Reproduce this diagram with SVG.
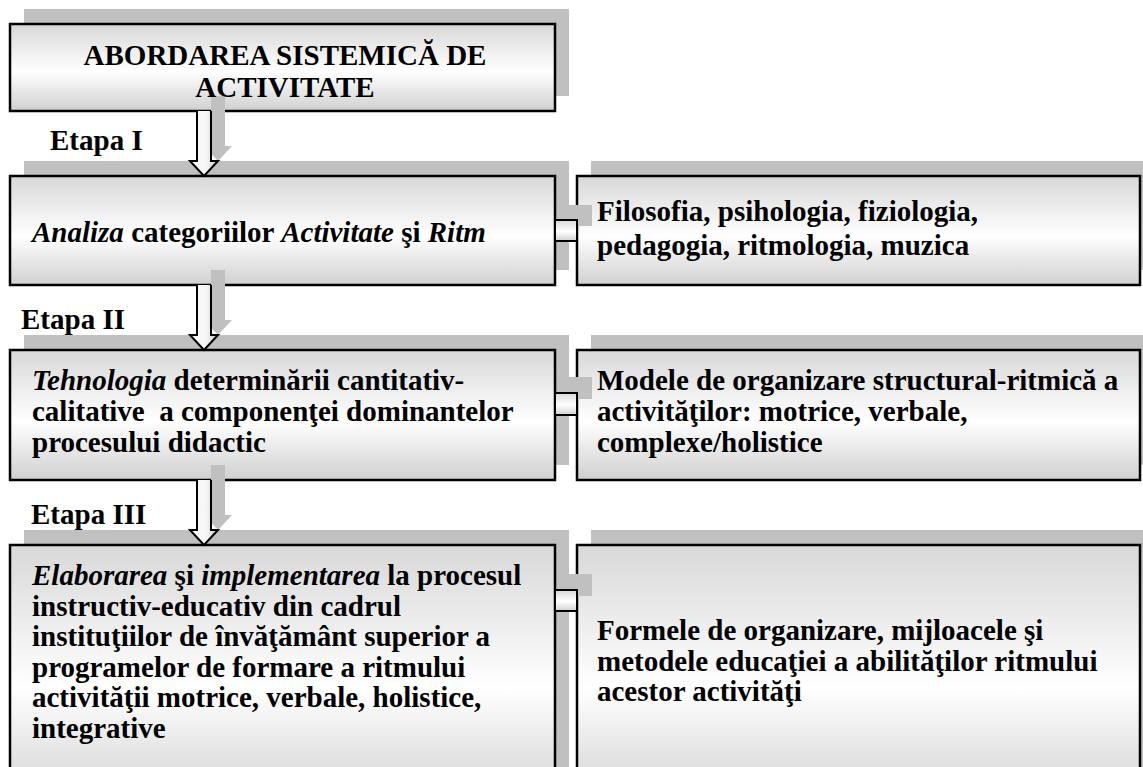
<svg xmlns="http://www.w3.org/2000/svg" width="1143" height="767" viewBox="0 0 1143 767">
<defs>
<linearGradient id="boxg" x1="0" y1="0" x2="0" y2="1">
<stop offset="0" stop-color="#d8d8d8"/>
<stop offset="0.55" stop-color="#ffffff"/>
<stop offset="1" stop-color="#d0d0d0"/>
</linearGradient>
<linearGradient id="arrg" x1="0" y1="0" x2="1" y2="0">
<stop offset="0" stop-color="#ffffff"/>
<stop offset="0.6" stop-color="#f4f4f4"/>
<stop offset="1" stop-color="#c8c8c8"/>
</linearGradient>
<path id="arrow" d="M-7,0 L-7,50 L-14,50 L0,65 L14,50 L7,50 L7,0"/>
</defs>
<style>
.sh{fill:#c0c0c0;}
.box{fill:url(#boxg);stroke:#000;stroke-width:2.5;}
.bar{fill:url(#boxg);stroke:#000;stroke-width:2;}
.arr{fill:url(#arrg);stroke:#000;stroke-width:2;stroke-linejoin:miter;}
.ash{fill:#c0c0c0;}
.t{font-weight:bold;font-size:29px;fill:#000;}
.it{font-style:italic;}
</style>

<g id="node-top">
<rect class="sh" x="24" y="9" width="545" height="87"/>
<rect class="box" x="10" y="24" width="545" height="87"/>
</g>
<g id="node-analiza">
<rect class="sh" x="24" y="161" width="545" height="109"/>
<rect class="box" x="10" y="176" width="545" height="109"/>
</g>
<g id="node-filosofia">
<rect class="sh" x="591" y="161" width="560" height="109"/>
<rect class="box" x="577" y="176" width="563" height="109"/>
</g>
<g id="node-tehnologia">
<rect class="sh" x="24" y="335" width="545" height="130"/>
<rect class="box" x="10" y="350" width="545" height="130"/>
</g>
<g id="node-modele">
<rect class="sh" x="591" y="335" width="560" height="130"/>
<rect class="box" x="577" y="350" width="563" height="130"/>
</g>
<g id="node-elaborarea">
<rect class="sh" x="24" y="530" width="545" height="260"/>
<rect class="box" x="10" y="545" width="545" height="260"/>
</g>
<g id="node-formele">
<rect class="sh" x="591" y="530" width="560" height="260"/>
<rect class="box" x="577" y="545" width="563" height="260"/>
</g>

<g id="connectors">
<use href="#arrow" class="ash" x="218" y="96"/>
<use href="#arrow" class="arr" x="204" y="111"/>
<use href="#arrow" class="ash" x="218" y="270"/>
<use href="#arrow" class="arr" x="204" y="285"/>
<use href="#arrow" class="ash" x="218" y="465"/>
<use href="#arrow" class="arr" x="204" y="480"/>
<rect class="sh" x="569" y="205" width="23" height="21"/>
<rect class="bar" x="555" y="220" width="22" height="21"/>
<rect class="sh" x="569" y="377" width="23" height="22"/>
<rect class="bar" x="555" y="393" width="22" height="22"/>
<rect class="sh" x="569" y="574" width="23" height="22"/>
<rect class="bar" x="555" y="590" width="22" height="21"/>
</g>

<g id="labels" class="t" font-family="Liberation Serif, Times New Roman, DejaVu Serif, serif">
<text x="285" y="65" text-anchor="middle">ABORDAREA SISTEMICĂ DE</text>
<text x="285" y="97" text-anchor="middle">ACTIVITATE</text>
<text x="50" y="150">Etapa I</text>
<text x="21" y="329">Etapa II</text>
<text x="31" y="524">Etapa III</text>
<text x="32" y="242"><tspan class="it">Analiza</tspan> categoriilor <tspan class="it">Activitate</tspan> şi <tspan class="it">Ritm</tspan></text>
<text x="597" y="221">Filosofia, psihologia, fiziologia,</text>
<text x="597" y="255">pedagogia, ritmologia, muzica</text>
<text x="32" y="390" xml:space="preserve"><tspan class="it">Tehnologia</tspan> determinării cantitativ-</text>
<text x="32" y="421" xml:space="preserve">calitative  a componenţei dominantelor</text>
<text x="32" y="452">procesului didactic</text>
<text x="597" y="390">Modele de organizare structural-ritmică a</text>
<text x="597" y="421">activităţilor: motrice, verbale,</text>
<text x="597" y="452">complexe/holistice</text>
<text x="32" y="585"><tspan class="it">Elaborarea</tspan> şi <tspan class="it">implementarea</tspan> la procesul</text>
<text x="32" y="616">instructiv-educativ din cadrul</text>
<text x="32" y="646">instituţiilor de învăţământ superior a</text>
<text x="32" y="677">programelor de formare a ritmului</text>
<text x="32" y="707">activităţii motrice, verbale, holistice,</text>
<text x="32" y="738">integrative</text>
<text x="597" y="640">Formele de organizare, mijloacele şi</text>
<text x="597" y="671">metodele educaţiei a abilităţilor ritmului</text>
<text x="597" y="701">acestor activităţi</text>
</g>
</svg>
